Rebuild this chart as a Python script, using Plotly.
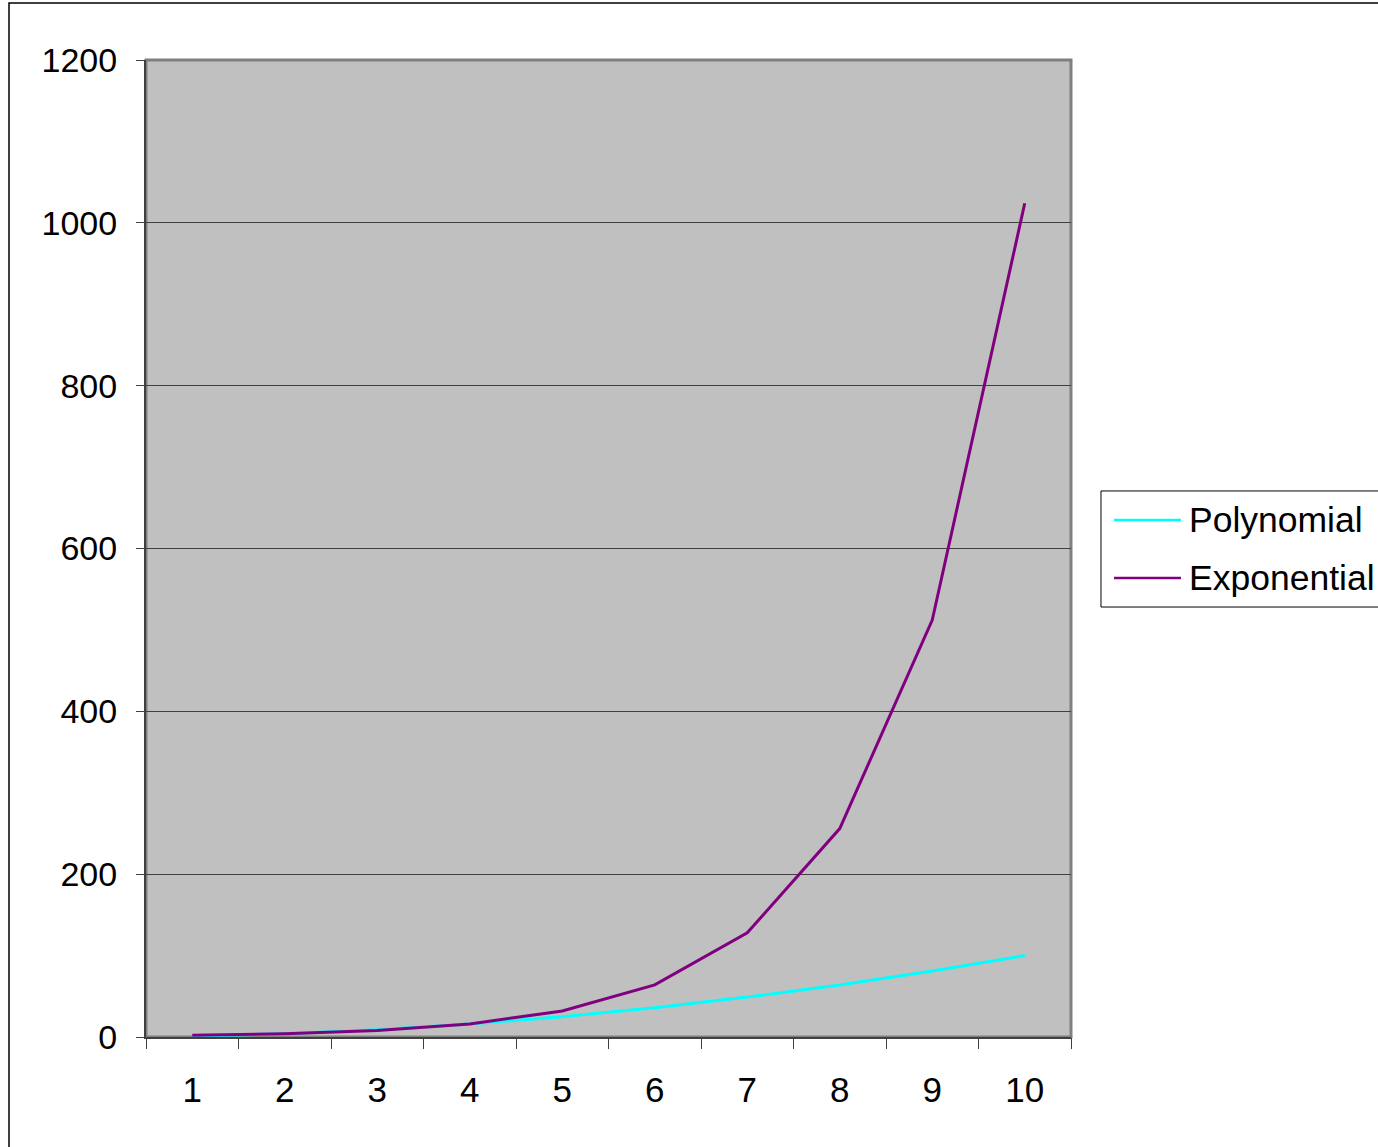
import plotly.graph_objects as go

# Series data
categories = [1, 2, 3, 4, 5, 6, 7, 8, 9, 10]
polynomial = [1, 4, 9, 16, 25, 36, 49, 64, 81, 100]
exponential = [2, 4, 8, 16, 32, 64, 128, 256, 512, 1024]
y_ticks = [0, 200, 400, 600, 800, 1000, 1200]
series_names = ["Polynomial", "Exponential"]
series_colors = ["#00FFFF", "#800080"]

FONT = "Liberation Sans, Arial, sans-serif"

fig = go.Figure()
for name, color, values in zip(series_names, series_colors, [polynomial, exponential]):
    fig.add_trace(go.Scatter(x=categories, y=values, mode="lines", name=name,
                             line=dict(color=color, width=3), showlegend=False))

# Category boundary tick marks on an overlay axis
bounds = [c - 0.5 for c in categories] + [categories[-1] + 0.5]
fig.add_trace(go.Scatter(x=[bounds[0]], y=[0], xaxis="x2", mode="markers",
                         marker=dict(opacity=0), showlegend=False, hoverinfo="skip"))

# Legend box drawn beside the plot area (paper coordinates)
shapes = [
    # outer chart frame
    dict(type="rect", xref="paper", yref="paper", x0=-0.1481, x1=1.5,
         y0=-0.3, y1=1.0584, line=dict(color="black", width=1.5),
         fillcolor="rgba(0,0,0,0)", layer="above"),
    # plot area border
    dict(type="rect", xref="paper", yref="paper", x0=0, x1=1, y0=0, y1=1,
         line=dict(color="#808080", width=3), fillcolor="rgba(0,0,0,0)", layer="below"),
    # legend frame
    dict(type="rect", xref="paper", yref="paper", x0=1.0324, x1=1.5,
         y0=0.4401, y1=0.5589, line=dict(color="black", width=1),
         fillcolor="white", layer="above"),
]
annotations = []
legend_rows = [0.5292, 0.4698]
for name, color, yrow in zip(series_names, series_colors, legend_rows):
    shapes.append(dict(type="line", xref="paper", yref="paper", x0=1.0465, x1=1.1189,
                       y0=yrow, y1=yrow, line=dict(color=color, width=2.5), layer="above"))
    annotations.append(dict(xref="paper", yref="paper", x=1.1255, y=yrow, text=name,
                            showarrow=False, xanchor="left", yanchor="middle",
                            font=dict(family=FONT, size=35.5, color="black")))

fig.update_layout(
    width=1378, height=1147,
    margin=dict(l=146, r=307, t=60, b=110),
    paper_bgcolor="white",
    plot_bgcolor="#C0C0C0",
    font=dict(family=FONT, size=34, color="black"),
    showlegend=False,
    xaxis=dict(range=[0.5, 10.5], tickvals=categories, ticktext=[str(c) for c in categories],
               ticks="", showgrid=False, zeroline=False, showline=True,
               linecolor="#404040", linewidth=2, ticklabelstandoff=21,
               tickfont=dict(size=35), fixedrange=True),
    xaxis2=dict(range=[0.5, 10.5], overlaying="x", side="bottom", tickvals=bounds,
                ticktext=[""] * len(bounds), ticks="outside", ticklen=11, tickwidth=1,
                tickcolor="#404040", showgrid=False, zeroline=False, showline=False),
    yaxis=dict(range=[0, 1200], tickvals=y_ticks, ticks="outside", ticklen=8,
               tickcolor="#404040", tickwidth=1, showgrid=True, gridcolor="#404040",
               gridwidth=1, zeroline=False, showline=True, linecolor="#404040",
               linewidth=2, ticklabelstandoff=12),
    shapes=shapes,
    annotations=annotations,
)

fig.write_html("out.html")
